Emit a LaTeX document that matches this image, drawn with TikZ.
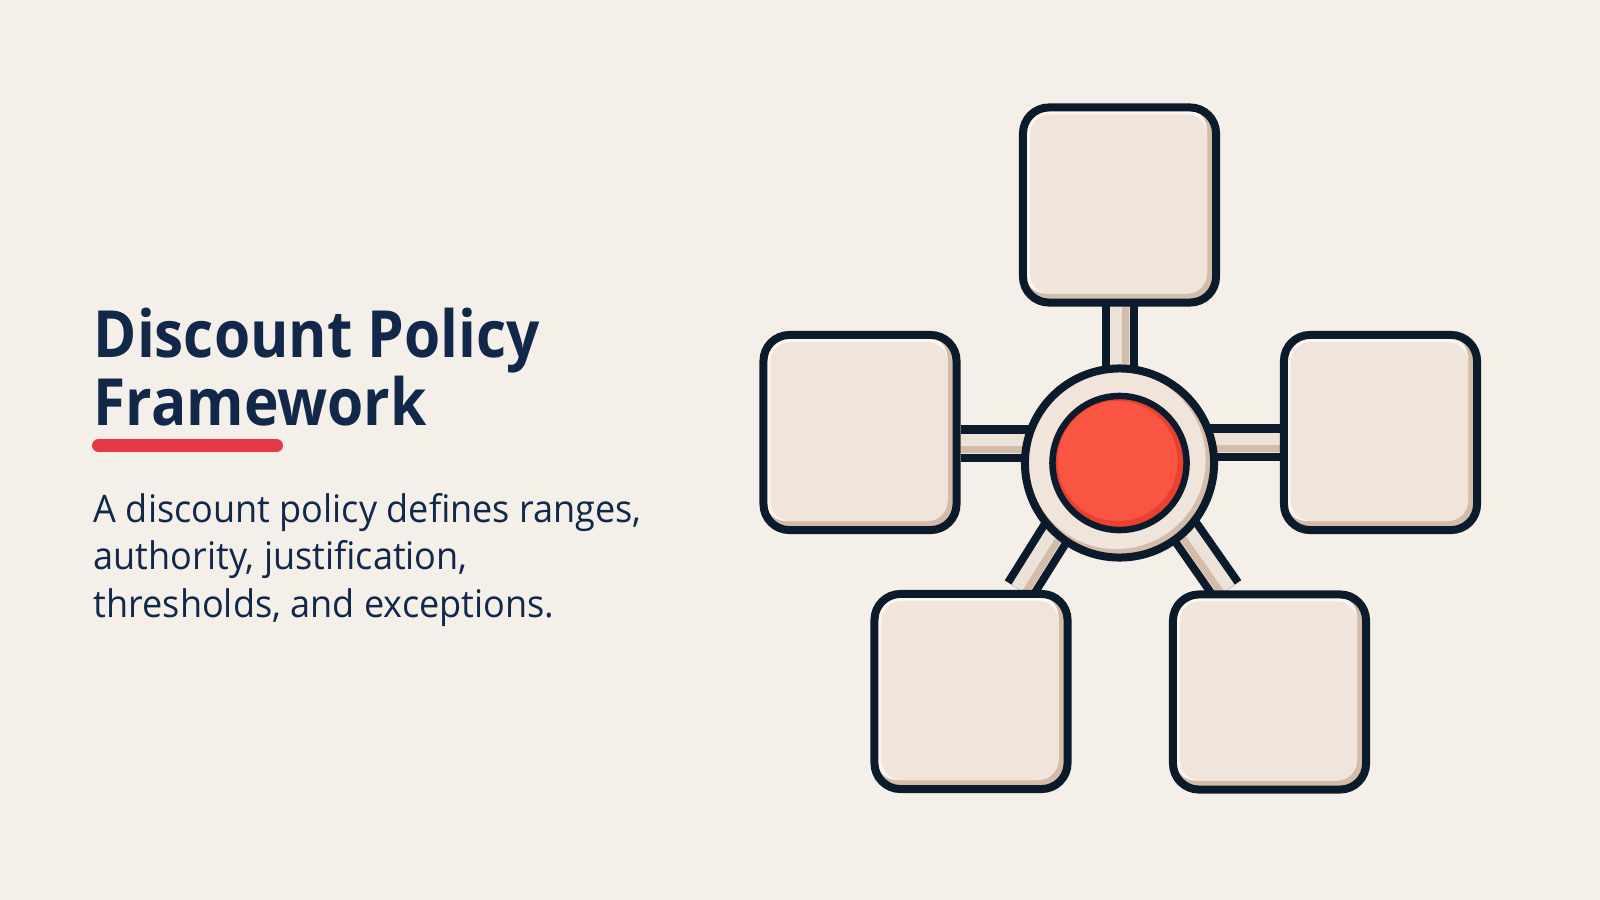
\documentclass[tikz,border=0pt]{standalone}
\usepackage{fontspec}
\setmainfont{Open Sans}
\newfontfamily\headfont{Open Sans}[FakeStretch=0.9]
\newfontfamily\copyfont{Open Sans}[FakeStretch=0.95]
\usepackage{xcolor}
\usepackage{tikz}
\usetikzlibrary{calc}
\usetikzlibrary{positioning}

\definecolor{canvas}{HTML}{F4F0E9}
\definecolor{inknavy}{HTML}{12284A}
\definecolor{outline}{HTML}{0C1B2C}
\definecolor{accentred}{HTML}{E63946}
\definecolor{cardfill}{HTML}{F1E5DB}
\definecolor{cardlight}{HTML}{FBF6F1}
\definecolor{cardshade}{HTML}{D3BDAA}
\definecolor{barfill}{HTML}{EDE2D7}
\definecolor{hubred}{HTML}{FA5443}
\definecolor{hubreddark}{HTML}{E8412F}

\pgfdeclarelayer{paper}
\pgfdeclarelayer{bars}
\pgfsetlayers{paper,bars,main}

\tikzset{
  card/.style={draw=outline, line width=0.08cm, rounded corners=0.26cm,
    fill=cardshade, minimum width=1.93cm, minimum height=1.95cm, inner sep=0pt,
    path picture={
      \fill[cardlight, rounded corners=0.22cm] ($(path picture bounding box.north west)+(1,1)$) rectangle ($(path picture bounding box.south east)+(-9,-9)$);
      \fill[cardfill, rounded corners=0.2cm] ($(path picture bounding box.north west)+(7,7)$) rectangle ($(path picture bounding box.south east)+(-9,-9)$);
    }},
  ring/.style={circle, draw=outline, line width=0.08cm, fill=cardshade,
    minimum size=1.89cm, inner sep=0pt,
    path picture={
      \fill[cardfill] ($(path picture bounding box.center)+(-3,-3)$) circle (0.89cm);
    }},
  core/.style={circle, draw=outline, line width=0.065cm, fill=hubreddark,
    minimum size=1.34cm, inner sep=0pt,
    path picture={
      \fill[hubred] ($(path picture bounding box.center)+(-2,-2)$) circle (0.6cm);
    }},
  bar/.style={draw=outline, line width=0.08cm, double=barfill, double distance=0.2cm},
  barshade/.style={cardshade, line width=0.07cm},
  heading/.style={anchor=base west, inner sep=0pt, text=inknavy, font=\headfont\fontsize{18.5}{22}\selectfont\bfseries},
  bodytext/.style={anchor=base west, inner sep=0pt, text=inknavy, font=\copyfont\fontsize{10.8}{13.5}\selectfont}
}

\begin{document}
\begin{tikzpicture}[x=0.01cm, y=-0.01cm]
  \begin{pgfonlayer}{paper}
    \fill[canvas] (0,0) rectangle (1600,900);
  \end{pgfonlayer}
  \useasboundingbox (0,0) rectangle (1600,900);

  % text block
  \node[heading] (title1) at (93,357) {Discount Policy};
  \node[heading] (title2) at (93,425) {Framework};
  \draw[accentred, line width=0.13cm, line cap=round] (98.5,445.5) -- (276.5,445.5);
  \node[bodytext] (line1) at (93,522) {A discount policy defines ranges,};
  \node[bodytext] (line2) at (93,569.5) {authority, justification,};
  \node[bodytext] (line3) at (93,617) {thresholds, and exceptions.};

  % hub and cards
  \node[ring] (hub) at (1119.5,463) {};
  \node[core] (core) at (hub.center) {};
  \node[card] (top) at (1119.5,205) {};
  \node[card] (left) at (860,432.5) {};
  \node[card] (right) at (1380.5,432.5) {};
  \node[card] (botleft) at (971,691.5) {};
  \node[card] (botright) at (1269.5,692) {};

  \begin{pgfonlayer}{bars}
    \draw[bar] (top.center) -- (hub.center);
    \draw[bar] ($(left.east)+(0,11)$) -- ($(hub.center |- left.east)+(0,11)$);
    \draw[bar] ($(right.west)+(0,10)$) -- ($(hub.center |- right.west)+(0,10)$);
    \draw[bar] ($(hub.center)+(-20,0)$) -- ($(botleft.north)+(49,0)$);
    \draw[bar] ($(hub.center)+(18,0)$) -- ($(botright.north)+(-43,0)$);
    % shaded edge of each bar
    \draw[barshade] ($(top.center)+(6,0)$) -- ($(hub.center)+(6,0)$);
    \draw[barshade] ($(left.east)+(0,17)$) -- ($(hub.center |- left.east)+(0,17)$);
    \draw[barshade] ($(right.west)+(0,16)$) -- ($(hub.center |- right.west)+(0,16)$);
    \draw[barshade] ($(hub.center)+(-15,3)$) -- ($(botleft.north)+(54,3)$);
    \draw[barshade] ($(hub.center)+(13,3)$) -- ($(botright.north)+(-48,3)$);
  \end{pgfonlayer}
\end{tikzpicture}
\end{document}
